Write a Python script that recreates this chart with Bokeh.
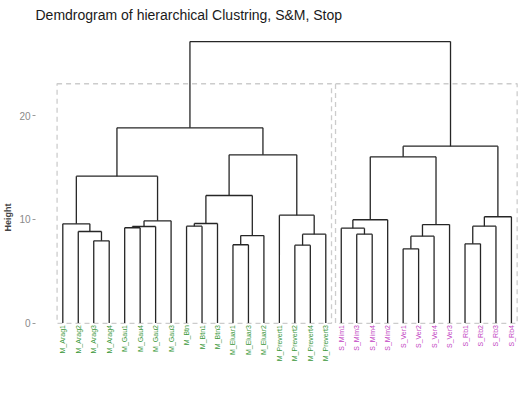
from bokeh.plotting import figure
from bokeh.models import FixedTicker
from bokeh.embed import file_html
from bokeh.resources import INLINE
from bokeh.core.properties import value

# ---- data -------------------------------------------------------------
leaves = ["M_Arag1", "M_Arag2", "M_Arag3", "M_Arag4",
          "M_Gau1", "M_Gau4", "M_Gau2", "M_Gau3",
          "M_Btn", "M_Btn1", "M_Btn3",
          "M_Eluar1", "M_Eluar3", "M_Eluar2",
          "M_Prevert1", "M_Prevert2", "M_Prevert4", "M_Prevert3",
          "S_Mim1", "S_Mim3", "S_Mim4", "S_Mim2",
          "S_Ver1", "S_Ver2", "S_Ver4", "S_Ver3",
          "S_Rb1", "S_Rb2", "S_Rb3", "S_Rb4"]
leaf_group = ["M"] * 18 + ["S"] * 12
group_names = ["M", "S"]
group_colors = ["#3a983a", "#c23fc2"]

# merges: (node, left child, right child, height)
merges = [
    ("n1", "M_Arag3", "M_Arag4", 7.92),
    ("n2", "M_Arag2", "n1", 8.82),
    ("n3", "M_Arag1", "n2", 9.56),
    ("n4", "M_Gau1", "M_Gau4", 9.18),
    ("n5", "n4", "M_Gau2", 9.30),
    ("n6", "n5", "M_Gau3", 9.85),
    ("n7", "n3", "n6", 14.15),
    ("n8", "M_Btn", "M_Btn1", 9.33),
    ("n9", "n8", "M_Btn3", 9.59),
    ("n10", "M_Eluar1", "M_Eluar3", 7.54),
    ("n11", "n10", "M_Eluar2", 8.43),
    ("n12", "n9", "n11", 12.29),
    ("n13", "M_Prevert2", "M_Prevert4", 7.50),
    ("n14", "n13", "M_Prevert3", 8.56),
    ("n15", "M_Prevert1", "n14", 10.39),
    ("n16", "n12", "n15", 16.21),
    ("n17", "n7", "n16", 18.81),
    ("n18", "S_Mim3", "S_Mim4", 8.56),
    ("n19", "S_Mim1", "n18", 9.14),
    ("n20", "n19", "S_Mim2", 9.95),
    ("n21", "S_Ver1", "S_Ver2", 7.15),
    ("n22", "n21", "S_Ver4", 8.37),
    ("n23", "n22", "S_Ver3", 9.49),
    ("n24", "n20", "n23", 16.02),
    ("n25", "S_Rb1", "S_Rb2", 7.63),
    ("n26", "n25", "S_Rb3", 9.33),
    ("n27", "n26", "S_Rb4", 10.24),
    ("n28", "n24", "n27", 17.04),
    ("root", "n17", "n28", 27.13),
]
rect_top = 23.06
y_ticks = [0, 10, 20]
title = "Demdrogram of hierarchical Clustring, S&M, Stop"

# ---- geometry from the tree ---------------------------------------------
pos = {name: (i + 1, 0.0) for i, name in enumerate(leaves)}
x0, y0, x1, y1 = [], [], [], []
for node, a, b, h in merges:
    xa, ya = pos[a]
    xb, yb = pos[b]
    x0 += [xa, xb, xa]
    y0 += [ya, yb, h]
    x1 += [xa, xb, xb]
    y1 += [h, h, h]
    pos[node] = ((xa + xb) / 2.0, h)

# ---- figure -------------------------------------------------------------
W, H = 521, 409
left_border, top_border = 35, 25
zero_px, py = 322.5, 10.375
leaf1_px, px = 62.3, 15.47
y_start = -(H - zero_px) / py
y_end = (zero_px - top_border) / py
x_start = 1 + (left_border - leaf1_px) / px
x_end = 1 + (W - leaf1_px) / px

p = figure(width=W, height=H, output_backend="svg", toolbar_location=None,
           x_range=(x_start, x_end), y_range=(y_start, y_end),
           x_axis_location=None, min_border_left=left_border, min_border_right=0,
           min_border_top=top_border, min_border_bottom=0)
p.outline_line_color = None
p.grid.visible = False
p.background_fill_color = "white"

p.title.text = title
p.title.text_font = "Liberation Sans"
p.title.text_font_size = "14px"
p.title.text_font_style = "normal"
p.title.text_color = "#1a1a1a"
p.title.align = "left"
p.title.standoff = 6

ax = p.yaxis[0]
ax.ticker = FixedTicker(ticks=y_ticks)
ax.axis_line_color = None
ax.major_tick_in = 0
ax.major_tick_out = 3
ax.major_tick_line_color = "#9a9a9a"
ax.minor_tick_line_color = None
ax.major_label_text_color = "#8a8a8a"
ax.major_label_text_font = "Liberation Sans"
ax.major_label_text_font_size = "10px"
ax.major_label_standoff = 2
ax.axis_label = "Height"
ax.axis_label_text_font = "Liberation Sans"
ax.axis_label_text_font_size = "9px"
ax.axis_label_text_font_style = "bold"
ax.axis_label_standoff = 3

# cluster rectangles
counts = [leaf_group.count(g) for g in group_names]
start = 1
for c in counts:
    lo, hi = start, start + c - 1
    p.quad(left=lo - 0.37, right=hi + 0.37, bottom=-0.03, top=rect_top,
           fill_color=None, line_color="#cccccc", line_dash="5 4", line_width=1.3)
    start += c

p.segment(x0=x0, y0=y0, x1=x1, y1=y1, line_color="#262626", line_width=1.3)

colors = [group_colors[group_names.index(g)] for g in leaf_group]
p.text(x=list(range(1, len(leaves) + 1)), y=[-0.2] * len(leaves), text=leaves,
       angle=1.5708, text_align="right", text_baseline="middle",
       text_color=colors, text_font=value("Liberation Sans"),
       text_font_size="7px")

open("out.html", "w").write(file_html(p, INLINE))
